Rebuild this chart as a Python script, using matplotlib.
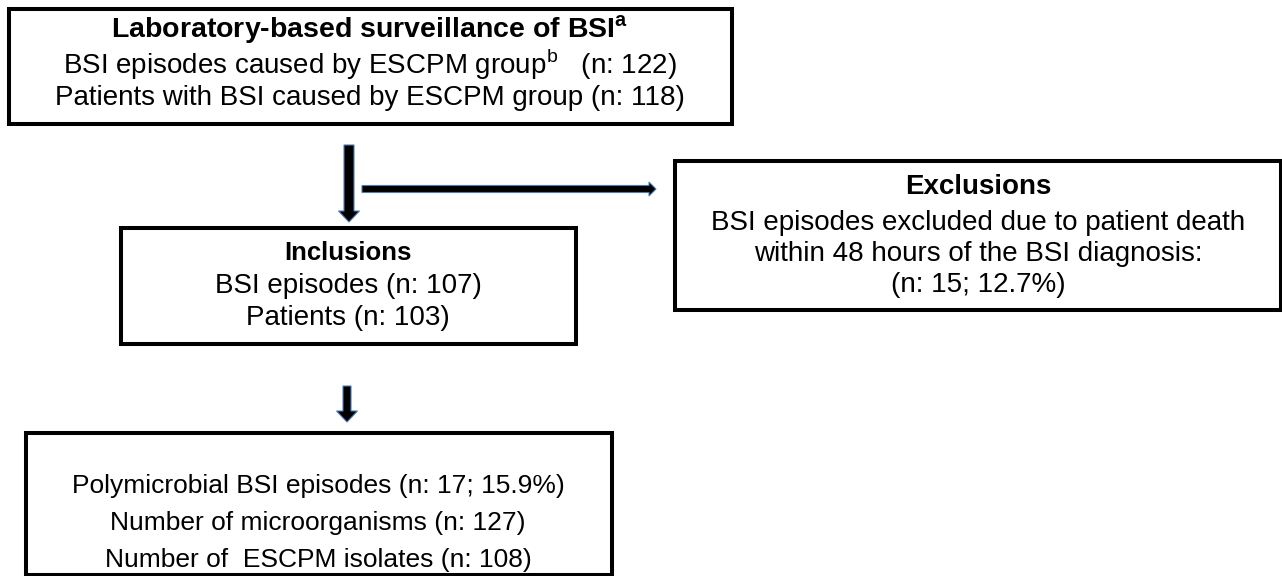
import matplotlib
matplotlib.use('Agg')
import matplotlib.pyplot as plt
from matplotlib.patches import Rectangle, FancyArrow

plt.rcParams['font.family'] = ['Liberation Sans', 'DejaVu Sans']
plt.rcParams['mathtext.fontset'] = 'custom'
plt.rcParams['mathtext.rm'] = 'Liberation Sans'
plt.rcParams['mathtext.bf'] = 'Liberation Sans:bold'

# box texts (title line is bold)
top_title = r'Laboratory-based surveillance of BSI$^{\mathregular{a}}$'
top_lines = [r'BSI episodes caused by ESCPM group$^{\mathregular{b}}$   (n: 122)',
             'Patients with BSI caused by ESCPM group (n: 118)']
incl_title = 'Inclusions'
incl_lines = ['BSI episodes (n: 107)', 'Patients (n: 103)']
excl_title = 'Exclusions'
excl_lines = ['BSI episodes excluded due to patient death',
              'within 48 hours of the BSI diagnosis:',
              '(n: 15; 12.7%)']
bottom_lines = ['Polymicrobial BSI episodes (n: 17; 15.9%)',
                'Number of microorganisms (n: 127)',
                'Number of  ESCPM isolates (n: 108)']

fig = plt.figure(figsize=(12.82, 5.76), dpi=100)
ax = fig.add_axes([0, 0, 1, 1])
ax.set_xlim(0, 1282)
ax.set_ylim(576, 0)
ax.axis('off')

def box(x0, y0, x1, y1):
    ax.add_patch(Rectangle((x0, y0), x1 - x0, y1 - y0, fill=False,
                           edgecolor='black', linewidth=2.9))

def lines(cx, ys, texts, sizes, bold_first=False):
    for i, (y, t, s) in enumerate(zip(ys, texts, sizes)):
        w = 'bold' if (bold_first and i == 0) else 'normal'
        ax.text(cx, y, t, ha='center', va='baseline', fontsize=s, fontweight=w)

box(9, 9, 732, 124)
lines(370, [38, 74, 105], [top_title] + top_lines, [20.5, 20, 20], bold_first=True)

box(121, 228, 576, 344)
lines(348, [260, 293, 325], [incl_title] + incl_lines, [18.5, 20, 20],
      bold_first=True)

box(675, 161, 1281, 310)
lines(978, [194, 230, 261, 292], [excl_title] + excl_lines, [20, 20, 20, 20],
      bold_first=True)

box(26, 433, 612, 575)
lines(318, [493, 530, 567], bottom_lines, [19, 19, 19])

arrow_kw = dict(length_includes_head=True, facecolor='black',
                edgecolor='#4a7ebb', linewidth=0.8)
ax.add_patch(FancyArrow(349, 145, 0, 77, width=10, head_width=21,
                        head_length=11, **arrow_kw))
ax.add_patch(FancyArrow(362, 189, 294, 0, width=7, head_width=14,
                        head_length=7, **arrow_kw))
ax.add_patch(FancyArrow(347, 386, 0, 36, width=8, head_width=21,
                        head_length=11, **arrow_kw))

fig.savefig('out.png', dpi=100)
